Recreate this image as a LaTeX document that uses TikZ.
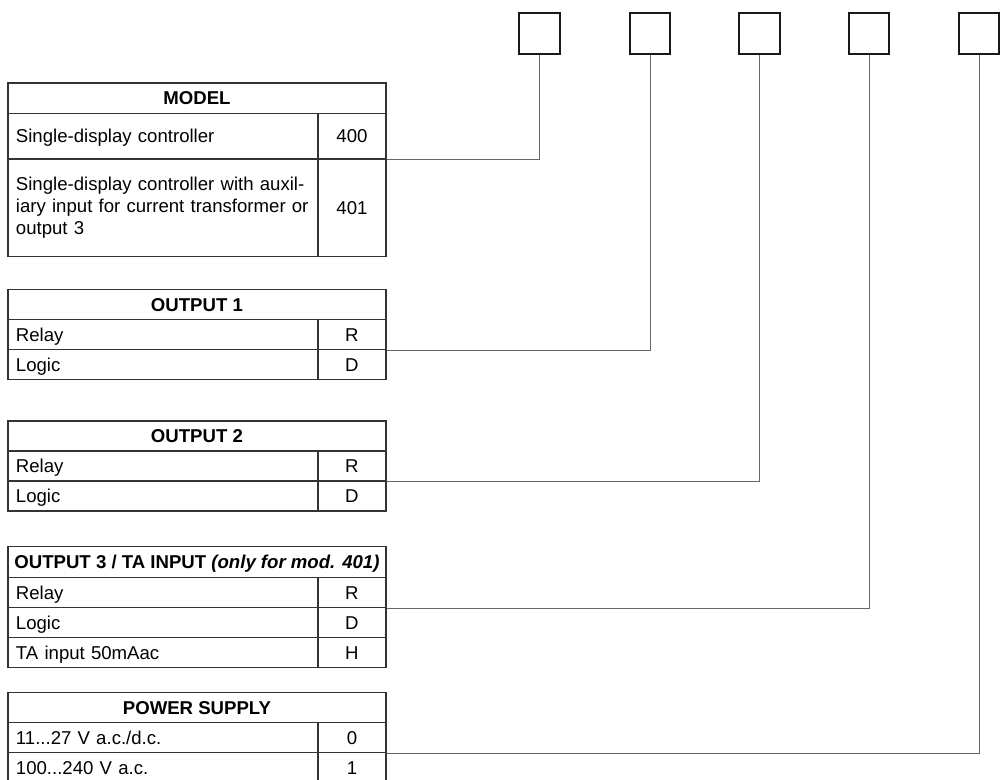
\documentclass[tikz,border=0pt]{standalone}
\usepackage{fontspec}
\setmainfont{Liberation Sans}

\begin{document}
\begin{tikzpicture}[
        x=0.5pt, y=-0.5pt,
        hdr/.style={rectangle, draw=black!80, line width=0.65pt, anchor=north west, minimum width=189pt, minimum height=15pt, inner sep=0pt, text height=6.7pt, text depth=0pt, font=\fontsize{9.3}{11}\selectfont\bfseries},
        desc/.style={rectangle, draw=black!80, line width=0.65pt, anchor=north west, text width=147pt, inner xsep=4pt, inner ysep=0pt, align=left, minimum height=15pt, text height=6.7pt, text depth=0pt, font=\fontsize{9.3}{11}\selectfont},
        code/.style={rectangle, draw=black!80, line width=0.65pt, anchor=north west, text width=34pt, inner sep=0pt, align=center, minimum height=15pt, text height=6.7pt, text depth=0pt, font=\fontsize{9.3}{11}\selectfont},
        slot/.style={rectangle, draw=black!90, line width=1.15pt, minimum size=20.3pt, inner sep=0pt},
        wire/.style={draw=black!60, line width=0.5pt}
    ]
    \useasboundingbox (0,0) rectangle (1007,780);

    % Code slots
    \foreach \i/\x in {1/539.5, 2/650, 3/759.5, 4/869, 5/979}
        \node[slot] (s\i) at (\x,33.5) {};

    % Model
    \node[hdr, minimum height=15.2pt] (mh) at (7.3,82.3) {MODEL};
    \node[desc, minimum height=22.8pt] (m1) at (7.3,112.7) {Single-display controller};
    \node[code, minimum height=22.8pt] (m1c) at (317.3,112.7) {400};
    \node[desc, minimum height=48.7pt, text height=, text depth=] (m2) at (7.3,158.3) {Single-display controller with auxil-\\iary input for current transformer or\\output 3};
    \node[code, minimum height=48.7pt] (m2c) at (317.3,158.3) {401};

    % Output 1
    \node[hdr] (o1h) at (7.3,289) {OUTPUT 1};
    \node[desc] (o1r) at (7.3,319) {Relay};
    \node[code] (o1rc) at (317.3,319) {R};
    \node[desc] (o1d) at (7.3,349) {Logic};
    \node[code] (o1dc) at (317.3,349) {D};

    % Output 2
    \node[hdr] (o2h) at (7.3,420.5) {OUTPUT 2};
    \node[desc] (o2r) at (7.3,450.5) {Relay};
    \node[code] (o2rc) at (317.3,450.5) {R};
    \node[desc] (o2d) at (7.3,480.5) {Logic};
    \node[code] (o2dc) at (317.3,480.5) {D};

    % Output 3 / TA input
    \node[hdr, minimum height=15.5pt] (o3h) at (7.3,545.7) {OUTPUT 3 / TA INPUT \textit{(only for mod. 401)}};
    \node[desc] (o3r) at (7.3,576.7) {Relay};
    \node[code] (o3rc) at (317.3,576.7) {R};
    \node[desc] (o3d) at (7.3,606.7) {Logic};
    \node[code] (o3dc) at (317.3,606.7) {D};
    \node[desc] (o3t) at (7.3,636.7) {TA input 50mAac};
    \node[code] (o3tc) at (317.3,636.7) {H};

    % Power supply
    \node[hdr] (ph) at (7.3,691.7) {POWER SUPPLY};
    \node[desc, minimum height=15.15pt] (p0) at (7.3,721.7) {11...27 V a.c./d.c.};
    \node[code, minimum height=15.15pt] (p0c) at (317.3,721.7) {0};
    \node[desc] (p1) at (7.3,752) {100...240 V a.c.};
    \node[code] (p1c) at (317.3,752) {1};

    % Connectors
    \draw[wire] (m1c.south east) -| (s1.south);
    \draw[wire] (o1rc.south east) -| (s2.south);
    \draw[wire] (o2rc.south east) -| (s3.south);
    \draw[wire] (o3rc.south east) -| (s4.south);
    \draw[wire] (p0c.south east) -| (s5.south);

\end{tikzpicture}
\end{document}
